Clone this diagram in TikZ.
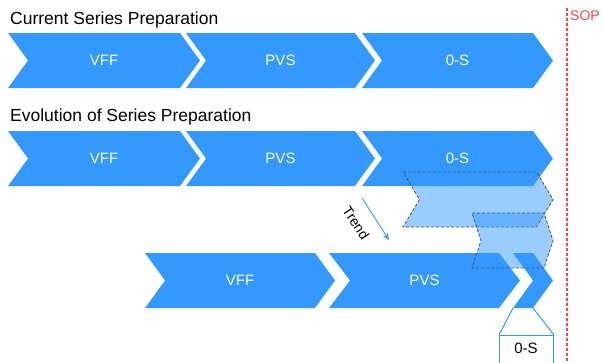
\documentclass[tikz,border=0pt]{standalone}
\usepackage{fontspec}
\setmainfont{Liberation Sans}
\usetikzlibrary{arrows.meta}
\definecolor{chevblue}{RGB}{51,153,255}
\definecolor{soprred}{RGB}{245,70,70}
\definecolor{dashgray}{RGB}{80,80,80}

% chevron: #1 style, #2 name, #3 left x, #4 top y, #5 body width, #6 point depth, #7 label
\newcommand\chevron[7][]{%
  \path[chevfill,#1] (#3,#4) -- ++(#5,0) -- ++(#6,27.5) -- ++(-#6,27.5)
    -- ++(-#5,0) -- ++(#6,-27.5) -- cycle;
  \coordinate (#2-sw) at (#3,#4+55);
  \coordinate (#2-se) at (#3+#5,#4+55);
  \node[chevlabel] (#2) at ({#3+(#5+#6)/2}, #4+27.5) {#7};
}

\begin{document}
\begin{tikzpicture}[x=1pt,y=-1pt,
    chevfill/.style={fill=chevblue},
    ghost/.style={fill=chevblue,fill opacity=0.5,draw=dashgray,
      dash pattern=on 3pt off 2pt,line width=0.8pt},
    chevlabel/.style={text=white,font=\fontsize{15}{17}\selectfont,inner sep=0pt},
    title/.style={anchor=base west,inner sep=0pt,font=\fontsize{17.5}{20}\selectfont},
    zoomline/.style={draw=chevblue,line width=1pt},
  ]
  \useasboundingbox (0,0) rectangle (603,362);

  % section titles
  \node[title] (t1) at (10,24) {Current Series Preparation};
  \node[title] (t2) at (10,121) {Evolution of Series Preparation};

  % current sequence
  \chevron{avff}{8}{33}{172}{20}{VFF}
  \chevron{apvs}{186}{33}{169}{20}{PVS}
  \chevron{aos}{362}{33}{171}{20}{0-S}

  % evolved sequence
  \chevron{bvff}{8}{131}{172}{20}{VFF}
  \chevron{bpvs}{186}{131}{169}{20}{PVS}
  \chevron{bos}{362}{131}{171}{20}{0-S}

  % compressed sequence
  \chevron{cvff}{145}{253}{170}{20}{VFF}
  \chevron{cpvs}{329}{253}{170}{21}{PVS}
  \chevron{cos}{513}{253}{20}{20}{}

  % intermediate stages of the 0-S phase
  \path[ghost] (403,172) -- ++(133.5,0) -- ++(16.5,27.5) -- ++(-16.5,27.5)
    -- ++(-133.5,0) -- ++(16.5,-27.5) -- cycle;
  \path[ghost] (472,213) -- ++(72,0) -- ++(9,27.5) -- ++(-9,27.5)
    -- ++(-72,0) -- ++(9,-27.5) -- cycle;

  % trend arrow
  \coordinate (trs) at (362,198);
  \coordinate (tre) at (389,240);
  \draw[chevblue,line width=0.9pt,-{Stealth[length=7pt,width=6pt]}] (trs) -- (tre);
  \node[rotate=-56,font=\fontsize{14}{16}\selectfont,inner sep=0pt] (trend) at (356,223) {Trend};

  % enlarged view of the short 0-S phase
  \node[zoomline,minimum width=54pt,minimum height=30pt,anchor=north west,
        inner sep=0pt] (box) at (499,335) {};
  \node[font=\fontsize{15}{17}\selectfont,inner sep=0pt] (boxtxt) at (526,348) {0-S};
  \draw[zoomline] (cos-sw) -- (box.north west);
  \draw[zoomline] (cos-se) -- (box.north east);

  % start of production
  \coordinate (sopt) at (567,8);
  \coordinate (sopb) at (567,362);
  \draw[draw=soprred,line width=1.3pt,dash pattern=on 3pt off 2pt] (sopt) -- (sopb);
  \node[anchor=base west,inner sep=0pt,text=soprred,font=\fontsize{14}{16}\selectfont] (sop) at (570,20) {SOP};
\end{tikzpicture}
\end{document}
